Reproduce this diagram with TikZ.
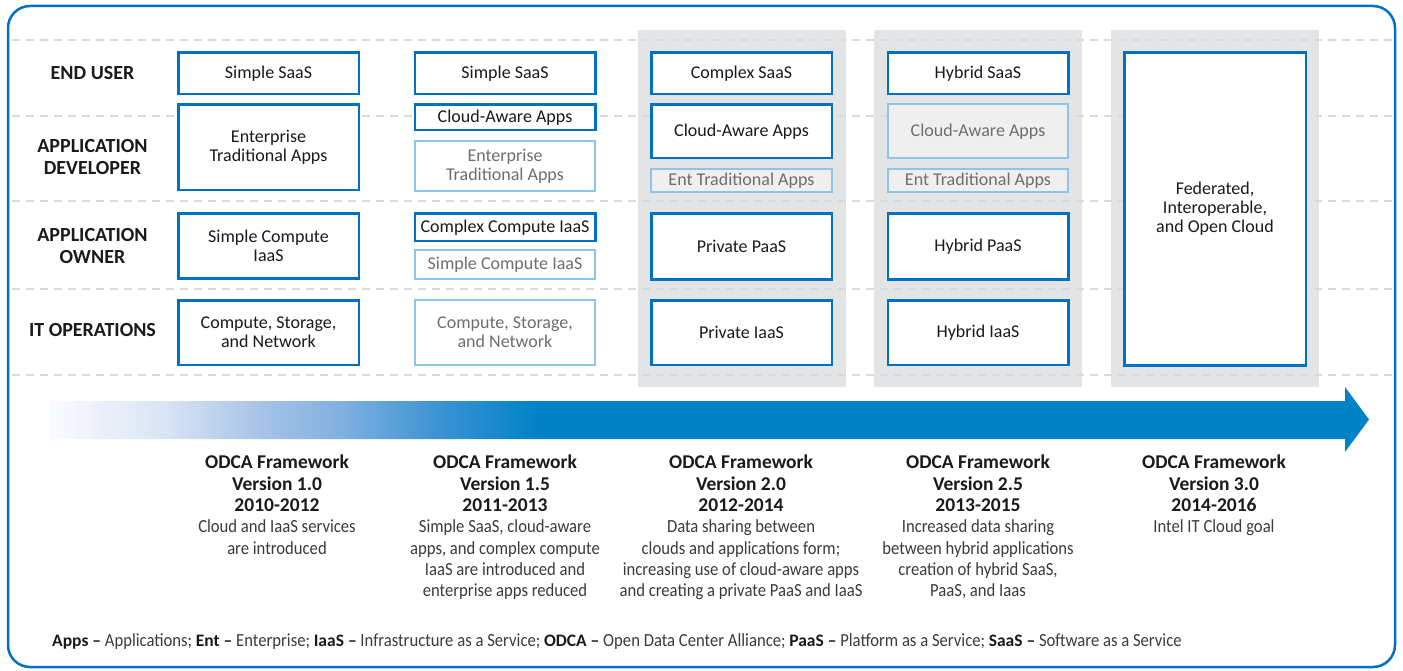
\documentclass[tikz,border=0pt]{standalone}
\usepackage{fontspec}
\setmainfont{Carlito}
\newfontfamily\descfont{Carlito}[FakeStretch=0.9]

\definecolor{odcablue}{HTML}{0071C5}
\definecolor{arrowblue}{HTML}{0082C8}
\definecolor{paleblue}{HTML}{8EC4E8}
\definecolor{bandgray}{HTML}{E3E4E6}
\definecolor{boxgray}{HTML}{EFEFF0}
\definecolor{dashgray}{HTML}{D9DADC}
\definecolor{ink}{HTML}{1A1A1A}
\definecolor{fadeink}{HTML}{6D6E71}
\definecolor{descink}{HTML}{3A3A3A}
\definecolor{fadeA}{HTML}{FAFBFE}
\definecolor{fadeB}{HTML}{D8E4F4}
\definecolor{fadeC}{HTML}{A6C3E8}
\definecolor{fadeD}{HTML}{7FB0E0}
\definecolor{fadeE}{HTML}{3D94D3}

\pgfdeclarehorizontalshading{timeline}{100bp}{color(0bp)=(fadeA); color(25bp)=(fadeA);
  color(29.4bp)=(fadeB); color(33bp)=(fadeC); color(36.1bp)=(fadeD); color(39.6bp)=(fadeE);
  color(43.5bp)=(arrowblue); color(100bp)=(arrowblue)}

\tikzset{
  tierbox/.style={draw=odcablue, line width=2.5pt, fill=white, text=ink, inner sep=0pt,
    align=center, minimum width=180.5pt, font=\fontsize{18}{19}\selectfont},
  fadedbox/.style={tierbox, draw=paleblue, line width=2pt, text=fadeink},
  greybox/.style={fadedbox, fill=boxgray},
  role/.style={text=ink, align=center, inner sep=0pt, font=\bfseries\fontsize{20}{22}\selectfont},
  stage/.style={anchor=north, align=center, inner sep=0pt, text=descink,
    font=\descfont\fontsize{18.5}{21.3}\selectfont},
  lane/.style={draw=dashgray, line width=2pt, dash pattern=on 8pt off 6pt},
}
\newcommand{\stagehead}[1]{{\rmfamily\bfseries\fontsize{19.5}{21.3}\selectfont\color{ink}#1}}
\newcommand{\legendterm}[1]{{\rmfamily\bfseries\fontsize{17.5}{20}\selectfont\color{ink}#1}}

\begin{document}
\begin{tikzpicture}[x=1pt, y=-1pt]
\useasboundingbox (0,0) rectangle (1403,671);
\draw[odcablue, line width=2.5pt, rounded corners=22pt] (8,6) rectangle (1395,667);

\fill[bandgray] (638,30) rectangle (846,387);
\fill[bandgray] (874,30) rectangle (1082,387);
\fill[bandgray] (1111,30) rectangle (1319,387);

\draw[lane] (12,40) -- (1392,40);
\draw[lane] (12,116) -- (1392,116);
\draw[lane] (12,201) -- (1392,201);
\draw[lane] (12,289) -- (1392,289);
\draw[lane] (12,375) -- (1392,375);

\node[role] (enduser) at (92.5,73) {END USER};
\node[role] (appdev) at (92.5,157) {APPLICATION\\DEVELOPER};
\node[role] (appowner) at (92.5,246.5) {APPLICATION\\OWNER};
\node[role] (itops) at (92.5,330) {IT OPERATIONS};

% version 1.0
\node[tierbox, minimum height=41.5pt] (eu1) at (268.5,73.5) {Simple SaaS};
\node[tierbox, minimum height=85.5pt] (ad1) at (268.5,147.5) {Enterprise\\Traditional Apps};
\node[tierbox, minimum height=64.5pt] (ao1) at (268.5,246) {Simple Compute\\IaaS};
\node[tierbox, minimum height=64.5pt] (it1) at (268.5,332.5) {Compute, Storage,\\and Network};

% version 1.5
\node[tierbox, minimum height=41.5pt] (eu2) at (505,73.5) {Simple SaaS};
\node[tierbox, minimum height=25.5pt] (ad2a) at (505,117.5) {Cloud-Aware Apps};
\node[fadedbox, minimum height=50pt] (ad2b) at (505,166.5) {Enterprise\\Traditional Apps};
\node[tierbox, minimum height=27.5pt] (ao2a) at (505,227.5) {Complex Compute IaaS};
\node[fadedbox, minimum height=28pt] (ao2b) at (505,264.5) {Simple Compute IaaS};
\node[fadedbox, minimum height=65pt] (it2) at (505,332.5) {Compute, Storage,\\and Network};

% version 2.0
\node[tierbox, minimum height=41.5pt] (eu3) at (741.5,73.5) {Complex SaaS};
\node[tierbox, minimum height=53.5pt] (ad3a) at (741.5,131.5) {Cloud-Aware Apps};
\node[greybox, minimum height=23pt] (ad3b) at (741.5,181) {Ent Traditional Apps};
\node[tierbox, minimum height=65.5pt] (ao3) at (741.5,246.5) {Private PaaS};
\node[tierbox, minimum height=64.5pt] (it3) at (741.5,332.5) {Private IaaS};

% version 2.5
\node[tierbox, minimum height=41.5pt] (eu4) at (978,73.5) {Hybrid SaaS};
\node[greybox, minimum height=54pt] (ad4a) at (978,131.5) {Cloud-Aware Apps};
\node[greybox, minimum height=23pt] (ad4b) at (978,181) {Ent Traditional Apps};
\node[tierbox, minimum height=65.5pt] (ao4) at (978,246.5) {Hybrid PaaS};
\node[tierbox, minimum height=64.5pt] (it4) at (978,332.5) {Hybrid IaaS};

% version 3.0
\node[tierbox, minimum width=181.5pt, minimum height=312.5pt] (cloud5) at (1215,209)
  {Federated,\\Interoperable,\\and Open Cloud};

\shade[shading=timeline] (50,401) -- (1345,401) -- (1345,387) -- (1369,419.5)
  -- (1345,452) -- (1345,439) -- (50,439) -- cycle;

\node[stage] (v10) at (277,455) {\stagehead{ODCA Framework}\\\stagehead{Version 1.0}\\\stagehead{2010-2012}\\
  Cloud and IaaS services\\are introduced};
\node[stage] (v15) at (505,455) {\stagehead{ODCA Framework}\\\stagehead{Version 1.5}\\\stagehead{2011-2013}\\
  Simple SaaS, cloud-aware\\apps, and complex compute\\IaaS are introduced and\\enterprise apps reduced};
\node[stage] (v20) at (741,455) {\stagehead{ODCA Framework}\\\stagehead{Version 2.0}\\\stagehead{2012-2014}\\
  Data sharing between\\clouds and applications form;\\increasing use of cloud-aware apps\\and creating a private PaaS and IaaS};
\node[stage] (v25) at (978,455) {\stagehead{ODCA Framework}\\\stagehead{Version 2.5}\\\stagehead{2013-2015}\\
  Increased data sharing\\between hybrid applications\\creation of hybrid SaaS,\\PaaS, and Iaas};
\node[stage] (v30) at (1214,455) {\stagehead{ODCA Framework}\\\stagehead{Version 3.0}\\\stagehead{2014-2016}\\
  Intel IT Cloud goal};

\node[anchor=base west, inner sep=0pt, text=descink, font=\descfont\fontsize{18.5}{20}\selectfont] (legend) at (52,646)
  {\legendterm{Apps –} Applications; \legendterm{Ent –} Enterprise; \legendterm{IaaS –} Infrastructure as a Service;
   \legendterm{ODCA –} Open Data Center Alliance; \legendterm{PaaS –} Platform as a Service; \legendterm{SaaS –} Software as a Service};
\end{tikzpicture}
\end{document}
